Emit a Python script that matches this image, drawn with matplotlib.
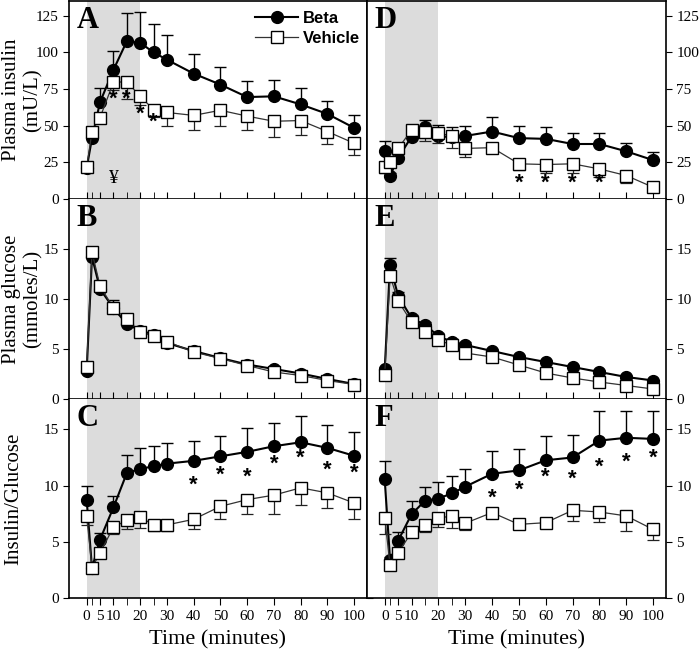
import matplotlib
matplotlib.use("Agg")
import matplotlib.pyplot as plt
from matplotlib.lines import Line2D
import numpy as np

# ---------------- data ----------------
times = [0, 2, 5, 10, 15, 20, 25, 30, 40, 50, 60, 70, 80, 90, 100]

# Panel A: plasma insulin (left column)
ins_beta_L = [21, 41.5, 66, 88, 107.5, 106.5, 100, 95, 85.5, 78, 69.5, 70, 64.5, 58, 48.5]
ins_beta_L_err = [2, 3, 10, 13, 19, 21, 19, 17, 13.5, 12, 11, 11, 11, 9, 8.5]
ins_veh_L = [21.5, 46, 55.5, 79.5, 80, 70, 61, 59, 57, 60.5, 56.5, 53, 53.5, 46, 38]
ins_veh_L_err = [2, 3, 4, 5, 12, 6, 5, 9, 10, 10.5, 9.5, 11, 10, 8.5, 8]

# Panel D: plasma insulin (right column)
ins_beta_R = [33, 16, 28, 42.5, 49, 43, 42, 43, 46, 41.5, 41, 37.5, 37.5, 32.5, 26.5]
ins_beta_R_err = [6.5, 2, 3, 4, 5, 7.5, 7, 7, 10, 8, 8, 7.7, 7.7, 5.7, 5.3]
ins_veh_R = [21.5, 25, 34.5, 47, 46, 45, 43, 34.5, 35, 24, 23.5, 24, 20.5, 16, 8]
ins_veh_R_err = [3.5, 3, 3, 3, 6.5, 7, 8, 6, 3, 4, 6, 6, 5.5, 5, 3.5]

# Panel B: plasma glucose (left)
glu_beta_L = [2.8, 14.2, 11.0, 9.1, 7.5, 6.85, 6.45, 5.6, 4.8, 4.1, 3.45, 3.0, 2.55, 2.0, 1.5]
glu_beta_L_err = [0.2, 0.4, 0.4, 0.8, 0.4, 0.3, 0.3, 0.3, 0.2, 0.2, 0.2, 0.2, 0.2, 0.2, 0.1]
glu_veh_L = [3.25, 14.7, 11.3, 9.1, 8.0, 6.7, 6.3, 5.75, 4.7, 4.05, 3.35, 2.7, 2.35, 1.85, 1.45]
glu_veh_L_err = [0.2, 0.5, 0.4, 0.5, 0.4, 0.3, 0.3, 0.3, 0.2, 0.2, 0.2, 0.2, 0.2, 0.2, 0.1]

# Panel E: plasma glucose (right)
glu_beta_R = [3.0, 13.4, 10.3, 8.1, 7.4, 6.3, 5.7, 5.4, 4.8, 4.2, 3.7, 3.2, 2.7, 2.2, 1.85]
glu_beta_R_err = [0.2, 0.7, 0.4, 0.3, 0.3, 0.3, 0.3, 0.3, 0.2, 0.2, 0.2, 0.2, 0.2, 0.2, 0.1]
glu_veh_R = [2.45, 12.3, 9.8, 7.7, 6.7, 5.9, 5.4, 4.6, 4.2, 3.4, 2.6, 2.1, 1.7, 1.35, 1.0]
glu_veh_R_err = [0.2, 0.5, 0.3, 0.3, 0.3, 0.3, 0.3, 0.3, 0.2, 0.2, 0.2, 0.2, 0.2, 0.2, 0.1]

# Panel C: insulin/glucose (left)
ig_beta_L = [8.75, 2.65, 5.2, 8.05, 11.1, 11.5, 11.7, 11.95, 12.2, 12.6, 13.0, 13.5, 13.85, 13.35, 12.65]
ig_beta_L_err = [1.2, 0.3, 0.6, 1.0, 1.6, 1.8, 1.8, 1.8, 1.8, 1.85, 2.15, 2.1, 2.3, 2.0, 2.1]
ig_veh_L = [7.3, 2.7, 4.0, 6.3, 6.9, 7.2, 6.5, 6.5, 7.0, 8.15, 8.75, 9.15, 9.8, 9.35, 8.45]
ig_veh_L_err = [0.8, 0.2, 0.3, 0.6, 0.8, 1.0, 0.5, 0.5, 0.9, 1.15, 1.25, 1.7, 1.5, 1.35, 1.4]

# Panel F: insulin/glucose (right)
ig_beta_R = [10.55, 3.35, 5.1, 7.45, 8.65, 8.85, 9.3, 9.9, 11.05, 11.35, 12.25, 12.5, 14.0, 14.25, 14.15]
ig_beta_R_err = [1.6, 0.3, 0.8, 1.2, 1.25, 1.45, 1.55, 1.6, 2.05, 1.9, 2.15, 2.0, 2.6, 2.35, 2.45]
ig_veh_R = [7.15, 2.9, 4.0, 5.85, 6.5, 7.1, 7.3, 6.65, 7.6, 6.55, 6.7, 7.8, 7.65, 7.3, 6.1]
ig_veh_R_err = [1.5, 0.2, 0.2, 0.2, 0.65, 0.75, 1.1, 0.6, 0.5, 0.2, 0.2, 0.95, 0.85, 1.3, 0.9]

# significance markers (time, y)
star_A_t = [10, 15, 20, 25]
star_A_y = [68, 68, 58, 52.5]
yen_A_t = [10]
yen_A_y = [14]
star_D_t = [50, 60, 70, 80]
star_D_y = [11, 11, 11, 10.5]
star_C_t = [40, 50, 60, 70, 80, 90, 100]
star_C_y = [10.0, 10.9, 10.7, 11.9, 12.4, 11.4, 11.1]
star_F_t = [40, 50, 60, 70, 80, 90, 100]
star_F_y = [8.9, 9.6, 10.7, 10.6, 11.6, 12.1, 12.4]

xticks_major = [0, 5, 10, 20, 30, 40, 50, 60, 70, 80, 90, 100]
xticks_minor = [2, 15, 25]
series_labels = ["Beta", "Vehicle"]
ylabels = ["Plasma insulin\n(mU/L)", "Plasma glucose\n(mmoles/L)", "Insulin/Glucose"]
panel_letters = [["A", "B", "C"], ["D", "E", "F"]]
ylims = [(0, 135), (0, 20), (0, 17.7)]
yticks = [[0, 25, 50, 75, 100, 125], [0, 5, 10, 15], [0, 5, 10, 15]]

# ---------------- figure ----------------
SERIF = ["Liberation Serif", "DejaVu Serif"]
SANS = ["Liberation Sans", "DejaVu Sans"]
W, H = 700, 656
fig = plt.figure(figsize=(W / 100, H / 100), dpi=100)

def px_axes(x0, y0, x1, y1):
    return fig.add_axes([x0 / W, 1 - y1 / H, (x1 - x0) / W, (y1 - y0) / H])

col_x = [(69, 367), (367, 666)]
row_y = [(1, 199), (199, 399), (399, 598)]
ylabel_x = [22, 22, 14]

data = [
    [(ins_beta_L, ins_beta_L_err, ins_veh_L, ins_veh_L_err),
     (glu_beta_L, glu_beta_L_err, glu_veh_L, glu_veh_L_err),
     (ig_beta_L, ig_beta_L_err, ig_veh_L, ig_veh_L_err)],
    [(ins_beta_R, ins_beta_R_err, ins_veh_R, ins_veh_R_err),
     (glu_beta_R, glu_beta_R_err, glu_veh_R, glu_veh_R_err),
     (ig_beta_R, ig_beta_R_err, ig_veh_R, ig_veh_R_err)],
]
stars = {(0, 0): (star_A_t, star_A_y), (1, 0): (star_D_t, star_D_y),
         (0, 2): (star_C_t, star_C_y), (1, 2): (star_F_t, star_F_y)}

t = np.array(times)
for c in range(2):
    for r in range(3):
        ax = px_axes(col_x[c][0], row_y[r][0], col_x[c][1], row_y[r][1])
        bb, be, vv, ve = data[c][r]
        bb, be, vv, ve = map(np.array, (bb, be, vv, ve))
        ax.axvspan(0, 20, color="#dcdcdc", lw=0, zorder=0)
        # Beta: filled circles, upper error bars
        ax.errorbar(t, bb, yerr=[np.zeros_like(be), be], fmt="none",
                    ecolor="black", elinewidth=1.0, capsize=4, capthick=1.0, zorder=2)
        ax.plot(t, bb, "-o", color="black", lw=1.5, ms=8.5, mfc="black",
                mec="black", zorder=3)
        # Vehicle: open squares, lower error bars
        ax.errorbar(t, vv, yerr=[ve, np.zeros_like(ve)], fmt="none",
                    ecolor="#222222", elinewidth=0.9, capsize=4, capthick=0.9, zorder=4)
        ax.plot(t, vv, "-s", color="#333333", lw=0.9, ms=8, mfc="white",
                mec="black", mew=1.0, zorder=5)
        if (c, r) in stars:
            st, sy = stars[(c, r)]
            for xx, yy in zip(st, sy):
                ax.text(xx, yy, "*", ha="center", va="center", fontsize=16,
                        fontweight="bold", family=SANS, zorder=6)
        if (c, r) == (0, 0):
            for xx, yy in zip(yen_A_t, yen_A_y):
                ax.text(xx, yy, "\u00a5", ha="center", va="center", fontsize=14,
                        family=SERIF, zorder=6)
        ax.set_xlim(-6.6, 104.8)
        ax.set_ylim(*ylims[r])
        ax.set_yticks(yticks[r])
        ax.set_xticks(xticks_major)
        ax.set_xticks(xticks_minor, minor=True)
        for sp in ax.spines.values():
            sp.set_linewidth(1.2)
        ax.spines["top"].set_visible(r == 0)
        if r < 2:
            ax.tick_params(axis="x", which="both", direction="in", length=5,
                           labelbottom=False, bottom=True, top=False)
        else:
            ax.tick_params(axis="x", which="both", direction="out", length=5,
                           labelbottom=True, bottom=True, top=False, labelsize=11)
            for lab in ax.get_xticklabels():
                lab.set_family(SERIF)
            ax.set_xlabel("Time (minutes)", fontsize=16, family=SERIF, labelpad=5)
        if c == 0:
            ax.tick_params(axis="y", left=True, right=True, labelleft=True,
                           labelright=False, direction="out", length=4, labelsize=11)
        else:
            ax.tick_params(axis="y", left=False, right=True, labelleft=False,
                           labelright=True, direction="out", length=4, labelsize=11)
        for lab in ax.get_yticklabels():
            lab.set_family(SERIF)
        ax.text(0.025, 0.975, panel_letters[c][r], transform=ax.transAxes,
                ha="left", va="top", fontsize=22, fontweight="bold", family=SERIF,
                zorder=7)
        if c == 0:
            yc = (row_y[r][0] + row_y[r][1]) / 2
            fig.text(ylabel_x[r] / W, 1 - yc / H, ylabels[r], rotation=90,
                     ha="center", va="center", fontsize=15, family=SERIF,
                     linespacing=1.15, multialignment="center")
        if (c, r) == (0, 0):
            handles = [
                Line2D([], [], color="black", lw=1.5, marker="o", ms=8.5, mfc="black"),
                Line2D([], [], color="#333333", lw=0.9, marker="s", ms=8, mfc="white",
                       mec="black"),
            ]
            ax.legend(handles, series_labels, loc="upper right", frameon=False,
                      prop={"family": SANS, "weight": "bold", "size": 12},
                      handlelength=2.6, handletextpad=0.3, borderaxespad=0.0,
                      bbox_to_anchor=(1.0, 0.985), labelspacing=0.3)

fig.savefig("out.png", dpi=100)
